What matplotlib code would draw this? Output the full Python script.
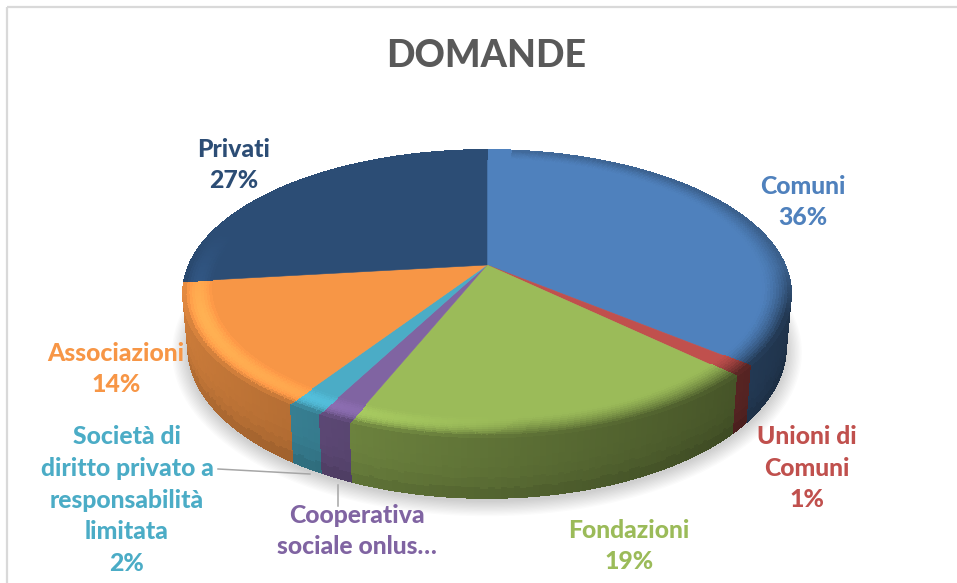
import numpy as np
import matplotlib
matplotlib.use("Agg")
import matplotlib.pyplot as plt
from matplotlib.collections import PolyCollection

# data
categories = ["Comuni", "Unioni di\nComuni", "Fondazioni", "Cooperativa\nsociale onlus…",
              "Società di\ndiritto privato a\nresponsabilità\nlimitata", "Associazioni", "Privati"]
values = [36.0, 1.2, 18.9, 1.55, 1.6, 13.9, 26.85]
pct_labels = ["36%", "1%", "19%", "", "2%", "14%", "27%"]
colors = ["#4F81BD", "#C0504D", "#9BBB59", "#8064A2", "#4BACC6", "#F79646", "#2C4D75"]

# layout in pixels
W, H = 957, 583
label_xy = [(803, 202), (807, 468), (629, 546), (357, 531), (127, 500), (116, 369), (234, 165)]

CX, CY = 487.0, 265.0
R_TOP, H_TOP, K = 298.0, 138.0, 0.199
R_BOT, H_BOT, DEPTH = 293.0, 145.0, 52.0

plt.rcParams["font.family"] = ["Lato", "DejaVu Sans"]


def project(r, ang, bottom=False):
    # ang is clockwise from 12 o'clock, simple perspective on a disc
    u = r * np.sin(ang)
    v = r * np.cos(ang)
    w = 1 + K * v
    if bottom:
        return CX + R_BOT * u / w, CY + DEPTH - H_BOT * v / w
    return CX + R_TOP * u / w, CY - H_TOP * v / w


def to_rgb(c):
    return np.array(matplotlib.colors.to_rgb(c))


def side_mult(ang):
    # light comes from the left
    return 0.60 - 0.22 * np.sin(ang)


fig = plt.figure(figsize=(W / 100, H / 100), dpi=100)
ax = fig.add_axes([0, 0, 1, 1])
ax.set_xlim(0, W)
ax.set_ylim(H, 0)
ax.axis("off")

# frame
ax.plot([6.5, 6.5], [H, 6.5], color="#D9D9D9", lw=1.6, solid_capstyle="butt")
ax.plot([6.5, W], [6.5, 6.5], color="#D9D9D9", lw=1.6, solid_capstyle="butt")

bounds = np.cumsum([0] + values) / sum(values) * 2 * np.pi

# soft shadow under the pie
a = np.linspace(0, 2 * np.pi, 240)
for grow in np.linspace(16, 1, 12):
    bx, by = project(1.0, a, bottom=True)
    ax.fill(CX + (bx - CX) * (1 + grow / 300), CY + DEPTH + (by - CY - DEPTH) * (1 + grow / 190) + 3,
            color="#000000", alpha=0.014, lw=0, zorder=1)

# outer wall, far quads first
side_polys, side_cols, side_key = [], [], []
for i, c in enumerate(colors):
    base = to_rgb(c)
    n = max(3, int(np.degrees(bounds[i + 1] - bounds[i])))
    edges = np.linspace(bounds[i], bounds[i + 1], n + 1)
    for a0, a1 in zip(edges[:-1], edges[1:]):
        mid = (a0 + a1) / 2
        ys = np.linspace(0, 1, 7)
        x0t, y0t = project(1, a0)
        x1t, y1t = project(1, a1)
        x0b, y0b = project(1, a0, True)
        x1b, y1b = project(1, a1, True)
        for s0, s1 in zip(ys[:-1], ys[1:]):
            side_polys.append([(x0t + (x0b - x0t) * s0, y0t + (y0b - y0t) * s0),
                               (x1t + (x1b - x1t) * s0, y1t + (y1b - y1t) * s0),
                               (x1t + (x1b - x1t) * s1, y1t + (y1b - y1t) * s1),
                               (x0t + (x0b - x0t) * s1, y0t + (y0b - y0t) * s1)])
            m = side_mult(mid) * (1.02 - 0.12 * s1 ** 4)
            side_cols.append(np.clip(base * m, 0, 1))
            side_key.append(np.cos(mid))
order = np.argsort(side_key)[::-1]
ax.add_collection(PolyCollection([side_polys[j] for j in order],
                                 facecolors=[side_cols[j] for j in order],
                                 edgecolors="face", linewidths=0.5, antialiaseds=False, zorder=2))

# top faces with a bevel at the rim
RIM = 0.91
for i, c in enumerate(colors):
    base = to_rgb(c)
    n = max(3, int(np.degrees(bounds[i + 1] - bounds[i])))
    edges = np.linspace(bounds[i], bounds[i + 1], n + 1)
    px, py = project(RIM, edges)
    ax.fill(np.r_[CX, px], np.r_[CY, py], color=c, lw=0.4, zorder=3)
    polys, cols = [], []
    rs = np.linspace(RIM, 1, 11)
    for a0, a1 in zip(edges[:-1], edges[1:]):
        mid = (a0 + a1) / 2
        lit = -np.sin(mid) * 0.9 + 0.1
        front = np.clip((0.25 - np.cos(mid)) / 0.6, 0, 1)
        weight = front if lit > 0 else max(front, 0.45)
        power = 1.5 + 3.5 * np.clip(lit / 0.5, 0, 1)
        for r0, r1 in zip(rs[:-1], rs[1:]):
            t = ((r0 + r1) / 2 - RIM) / (1 - RIM)
            m = 1 + 0.20 * max(lit, 0) * np.sin(np.pi * t) * front + (side_mult(mid) - 1) * t ** power * weight
            x00, y00 = project(r0, a0)
            x01, y01 = project(r0, a1)
            x11, y11 = project(r1, a1)
            x10, y10 = project(r1, a0)
            polys.append([(x00, y00), (x01, y01), (x11, y11), (x10, y10)])
            cols.append(np.clip(base * m, 0, 1))
    ax.add_collection(PolyCollection(polys, facecolors=cols, edgecolors="face", linewidths=0.5,
                                     antialiaseds=False, zorder=4))

# leader lines
ax.plot([218, 310], [469, 474], color="#A6A6A6", lw=1.1, zorder=5)
ax.plot([338, 338], [485, 506], color="#A6A6A6", lw=1.1, zorder=5)

# labels
for name, pct, c, (x, y) in zip(categories, pct_labels, colors, label_xy):
    txt = name + ("\n" + pct if pct else "")
    ax.text(x, y, txt, color=c, fontsize=17.8, fontweight="black", ha="center", va="center",
            linespacing=1.47, zorder=6)

ax.text(486, 56, "DOMANDE", color="#595959", fontsize=27, fontweight="black",
        ha="center", va="center", zorder=6)

fig.savefig("out.png", dpi=100)
